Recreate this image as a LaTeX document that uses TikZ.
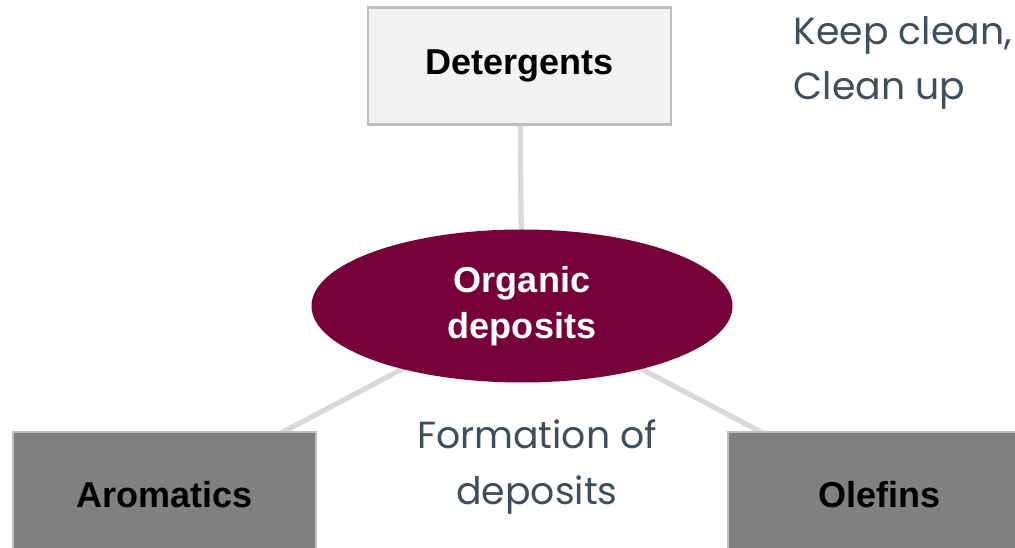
\documentclass[tikz,border=0pt]{standalone}
\usepackage{fontspec}
\setmainfont{Liberation Sans}
\newfontfamily\notefont{Poppins}
\usetikzlibrary{shapes.geometric,backgrounds}
\definecolor{wine}{HTML}{76003A}
\definecolor{slate}{HTML}{3F4E5A}
\definecolor{linkgray}{HTML}{D9D9D9}

\begin{document}
\begin{tikzpicture}[every node/.style={font=\fontsize{20.5}{26}\selectfont\bfseries},
                      box/.style={draw=black!25,line width=1.5pt,minimum width=6.06cm,minimum height=2.34cm},
                      note/.style={font=\fontsize{21.5}{31.5}\selectfont\notefont,text=slate,align=left},
                      link/.style={draw=linkgray,line width=3pt}]
    \clip (0,0) rectangle (20.3,10.94);
    \node[box,fill=black!5] (det) at (10.39,9.62) {Detergents};
    \node[ellipse,fill=wine,text=white,minimum width=8.42cm,minimum height=3.06cm,align=center,inner sep=0pt] (org) at (10.44,4.82) {Organic\\deposits};
    \node[box,fill=black!50,minimum height=2.5cm] (aro) at (3.29,1.05) {Aromatics};
    \node[box,fill=black!50,minimum height=2.5cm] (ole) at (17.59,1.05) {Olefins};
    \node[note,anchor=north west] (keep) at (15.75,10.74) {Keep clean,\\Clean up};
    \node[note,align=center] (form) at (10.74,1.6) {Formation of\\deposits};
    \begin{scope}[on background layer]
    \draw[link] (det) -- (org);
    \draw[link] (org.center) -- (aro.center);
    \draw[link] (org.center) -- (ole.center);
    \end{scope}
  \end{tikzpicture}
\end{document}
